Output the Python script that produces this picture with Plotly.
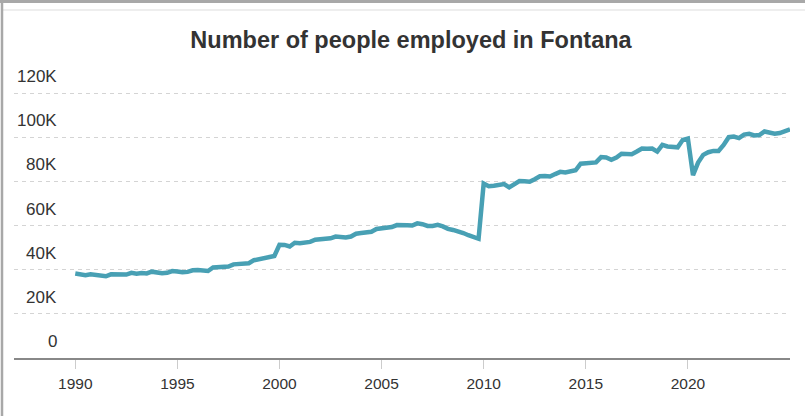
import numpy as np
import plotly.graph_objects as go

# Quarterly readings (thousands of people employed), 1990.00 ... 2025.00
employed_k = [
    38.3, 38.0, 37.5, 37.9,   # 1990
    37.6, 37.3, 37.0, 37.9,   # 1991
    38.0, 37.7, 37.8, 38.6,   # 1992
    38.2, 38.5, 38.3, 39.1,   # 1993
    38.5, 38.4, 38.6, 39.4,   # 1994
    39.2, 38.8, 39.0, 39.7,   # 1995
    39.8, 39.5, 39.4, 41.0,   # 1996
    41.3, 41.6, 41.4, 42.4,   # 1997
    42.6, 42.7, 42.9, 44.3,   # 1998
    44.8, 44.9, 45.6, 46.2,   # 1999
    51.3, 51.2, 50.5, 52.2,   # 2000
    52.0, 52.3, 52.6, 53.6,   # 2001
    53.8, 54.0, 54.2, 55.0,   # 2002
    54.8, 54.6, 55.0, 56.3,   # 2003
    56.6, 56.8, 57.2, 58.4,   # 2004
    58.6, 59.0, 59.3, 60.2,   # 2005
    60.4, 60.1, 60.0, 61.0,   # 2006
    60.6, 59.8, 59.8, 60.3,   # 2007
    59.6, 58.5, 58.0, 57.5,   # 2008
    56.6, 55.6, 54.6, 54.0,   # 2009
    79.0, 77.8, 78.0, 78.5,   # 2010
    78.8, 77.3, 78.6, 80.1,   # 2011
    80.0, 79.8, 81.0, 82.3,   # 2012
    82.4, 82.2, 83.3, 84.3,   # 2013
    84.0, 84.3, 85.0, 88.0,   # 2014
    88.3, 88.2, 88.6, 91.0,   # 2015
    90.8, 89.8, 90.8, 92.5,   # 2016
    92.2, 92.3, 93.5, 94.9,   # 2017
    94.8, 94.9, 93.5, 96.5,   # 2018
    95.8, 95.8, 95.4, 98.8,   # 2019
    99.4, 82.8, 88.5, 92.0,   # 2020
    93.2, 93.8, 93.8, 96.5,   # 2021
    100.0, 100.3, 99.6, 101.2,  # 2022
    101.5, 100.8, 101.0, 102.6,  # 2023
    101.9, 101.6, 101.9, 102.7,  # 2024
    103.6,                     # 2025
]
years = 1990 + np.arange(len(employed_k)) / 4.0
employed = [v * 1000 for v in employed_k]

x_ticks = [1990, 1995, 2000, 2005, 2010, 2015, 2020]
y_ticks = [0, 20000, 40000, 60000, 80000, 100000, 120000]
y_tick_labels = ["0", "20K", "40K", "60K", "80K", "100K", "120K"]

title_text = "Number of people employed in Fontana"

fig = go.Figure()
fig.add_trace(go.Scatter(
    x=years, y=employed, mode="lines",
    line=dict(color="#48A0B4", width=4.5),
    hoverinfo="skip", showlegend=False,
))

W, H = 805, 416
L, R, T, B = 14, 15, 82, 58
plot_w = W - L - R

annotations = []
for v, lab in zip(y_ticks, y_tick_labels):
    annotations.append(dict(
        text=lab, xref="paper", yref="y",
        x=(59 - L) / plot_w, y=v, xanchor="right", yanchor="bottom",
        yshift=5, showarrow=False,
        font=dict(family="Liberation Sans, Arial, sans-serif", size=17, color="#333333"),
    ))

def px_x(p):
    return (p - L) / plot_w

def px_y(p):
    return (H - B - p) / (H - T - B)

shapes = [
    # window frame
    dict(type="line", xref="paper", yref="paper", x0=px_x(0), x1=px_x(W), y0=px_y(1.5), y1=px_y(1.5),
         line=dict(color="#a8a8a8", width=3), layer="above"),
    dict(type="line", xref="paper", yref="paper", x0=px_x(3), x1=px_x(W), y0=px_y(10), y1=px_y(10),
         line=dict(color="#dddddd", width=1), layer="above"),
    dict(type="line", xref="paper", yref="paper", x0=px_x(2), x1=px_x(2), y0=px_y(0), y1=px_y(H),
         line=dict(color="#a8a8a8", width=2.5), layer="above"),
]

fig.update_layout(
    width=W, height=H,
    margin=dict(l=L, r=R, t=T, b=B),
    paper_bgcolor="white", plot_bgcolor="white",
    title=dict(text="<b>" + title_text + "</b>", x=411 / W, xanchor="center",
               y=1 - 40 / H, yanchor="middle",
               font=dict(family="Liberation Sans, Arial, sans-serif", size=23.5, color="#333333")),
    xaxis=dict(range=[1987, 2025], tickvals=x_ticks, ticktext=[str(t) for t in x_ticks],
               showgrid=False, zeroline=False, showline=True, linecolor="#888888", linewidth=2,
               ticks="outside", ticklen=9, tickcolor="#cccccc", tickwidth=1,
               ticklabelstandoff=1,
               tickfont=dict(family="Liberation Sans, Arial, sans-serif", size=15.5, color="#333333")),
    yaxis=dict(range=[0, 125000], tickvals=y_ticks, showticklabels=False,
               showgrid=True, gridcolor="#d4d4d4", griddash="4px,4px", gridwidth=1,
               zeroline=False, showline=False, ticks=""),
    annotations=annotations,
    shapes=shapes,
)

fig.write_html("out.html", config={"displayModeBar": False},
               post_script="document.body.style.margin='0';")
